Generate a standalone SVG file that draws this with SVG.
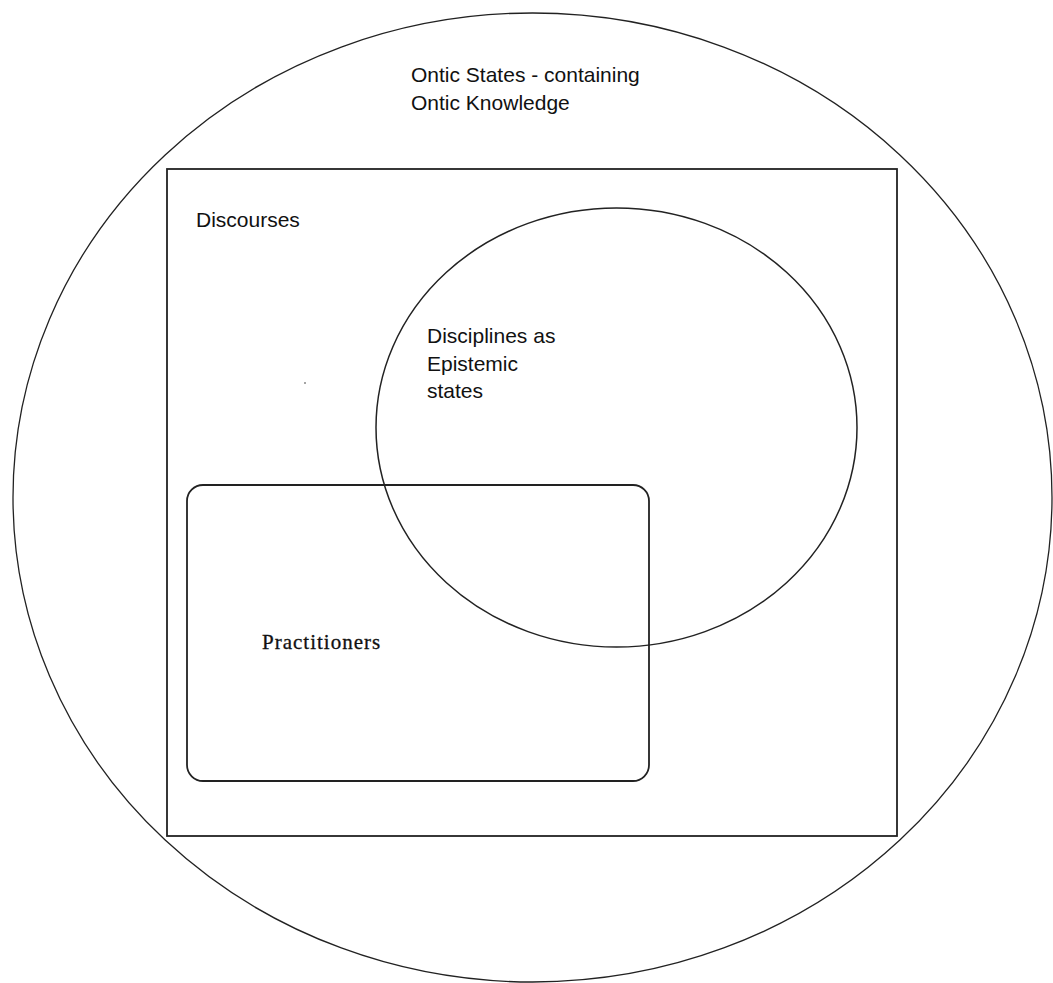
<svg xmlns="http://www.w3.org/2000/svg" width="1053" height="983" viewBox="0 0 1053 983">
<style>
.shape{fill:none;stroke:#222;}
.sans{font-family:"Liberation Sans",Arial,sans-serif;font-size:21px;fill:#111;}
.serif{font-family:"Liberation Serif","Times New Roman",serif;font-size:21px;fill:#111;letter-spacing:1px;stroke:#111;stroke-width:0.3;}
</style>
<rect x="0" y="0" width="1053" height="983" fill="#fff"/>
<g id="ontic-states">
<ellipse class="shape" cx="532.5" cy="497.5" rx="519.5" ry="484.5" stroke-width="1.3"/>
<text class="sans" x="411" y="82">Ontic States - containing</text>
<text class="sans" x="411" y="110">Ontic Knowledge</text>
</g>
<g id="discourses">
<rect class="shape" x="167" y="169" width="730" height="667" stroke-width="1.8"/>
<text class="sans" x="196" y="227">Discourses</text>
<circle cx="305" cy="383" r="0.8" fill="#333"/>
</g>
<g id="disciplines">
<ellipse class="shape" cx="616.5" cy="427.5" rx="240.5" ry="219.5" stroke-width="1.5"/>
<text class="sans" x="427" y="343">Disciplines as</text>
<text class="sans" x="427" y="371">Epistemic</text>
<text class="sans" x="427" y="398">states</text>
</g>
<g id="practitioners">
<rect class="shape" x="187" y="485" width="462" height="296" rx="16" ry="16" stroke-width="1.8"/>
<text class="serif" x="262" y="649">Practitioners</text>
</g>
<g id="connectors"></g>
</svg>
